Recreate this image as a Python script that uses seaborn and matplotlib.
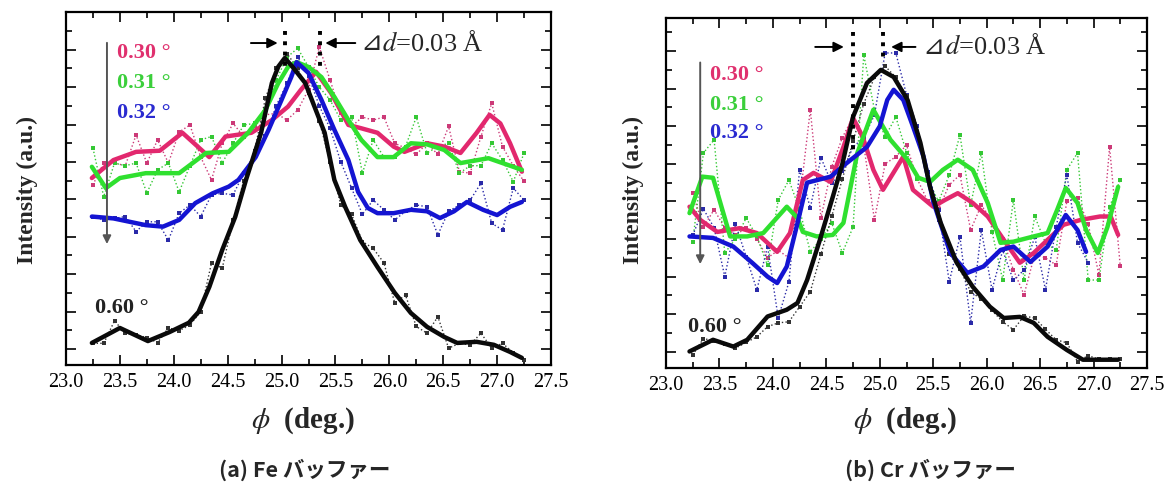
import numpy as np
import matplotlib
matplotlib.use("Agg")
import matplotlib.pyplot as plt
from matplotlib.ticker import MultipleLocator, FormatStrFormatter
import seaborn as sns

# raw scan positions (deg.)
phi_raw = [23.25, 23.35, 23.45, 23.55, 23.65, 23.75, 23.85, 23.95, 24.05, 24.15,
           24.25, 24.35, 24.45, 24.55, 24.65, 24.75, 24.85, 24.95, 25.05, 25.15,
           25.25, 25.35, 25.45, 25.55, 25.65, 25.75, 25.85, 25.95, 26.05, 26.15,
           26.25, 26.35, 26.45, 26.55, 26.65, 26.75, 26.85, 26.95, 27.05, 27.15,
           27.25]

# ---- (a) Fe buffer ----
fe_060_raw = [0.15, 0.15, 0.75, 0.42, 0.38, 0.30, 0.17, 0.56, 0.49, 0.64,
              1.00, 2.30, 2.16, 3.45, 4.50, 5.30, 6.70, 7.50, 7.90, 7.50,
              6.85, 6.10, 5.00, 3.85, 3.60, 2.87, 2.69, 2.30, 1.23, 1.44,
              0.60, 0.42, 0.86, 0.02, 0.15, 0.11, 0.42, 0.02, 0.15, -0.10, -0.29]
fe_060_phi = [23.24, 23.50, 23.76, 23.96, 24.14, 24.23, 24.33, 24.45, 24.57, 24.67,
              24.81, 24.91, 24.97, 25.03, 25.10, 25.22, 25.40, 25.49, 25.59, 25.73,
              25.89, 26.05, 26.20, 26.35, 26.51, 26.63, 26.81, 26.97, 27.12, 27.23]
fe_060_fit = [0.16, 0.56, 0.21, 0.45, 0.70, 0.99, 1.66, 2.65, 3.53, 4.52,
              5.78, 7.11, 7.55, 7.78, 7.55, 7.11, 5.78, 4.52, 3.80, 2.91,
              2.19, 1.50, 0.96, 0.59, 0.32, 0.16, 0.19, 0.11, -0.08, -0.24]

fe_032_raw = [3.54, 3.45, 3.49, 3.54, 3.14, 3.40, 3.40, 2.91, 3.63, 3.85,
              3.54, 4.12, 4.16, 4.12, 4.70, 5.20, 5.70, 6.50, 7.10, 7.80,
              7.30, 6.50, 5.90, 5.00, 4.30, 3.60, 3.98, 3.72, 3.45, 3.68,
              3.85, 3.80, 3.05, 3.68, 3.85, 3.98, 4.43, 3.36, 3.18, 4.30, 3.98]
fe_032_phi = [23.24, 23.44, 23.74, 23.90, 24.05, 24.20, 24.36, 24.51, 24.60, 24.76,
              24.88, 25.00, 25.09, 25.14, 25.25, 25.37, 25.49, 25.62, 25.71, 25.80,
              25.89, 26.04, 26.20, 26.35, 26.47, 26.60, 26.72, 26.87, 27.00, 27.12, 27.23]
fe_032_fit = [3.54, 3.49, 3.31, 3.27, 3.45, 3.90, 4.16, 4.34, 4.52, 5.13,
              5.86, 6.66, 7.27, 7.67, 7.38, 6.66, 5.86, 5.05, 4.20, 3.77,
              3.63, 3.63, 3.72, 3.68, 3.50, 3.68, 3.93, 3.72, 3.58, 3.80, 3.93]

fe_031_raw = [5.37, 4.07, 4.97, 4.90, 4.97, 4.17, 4.79, 4.97, 4.20, 4.90,
              5.59, 5.68, 4.97, 5.50, 5.99, 6.03, 6.39, 7.19, 7.80, 8.04,
              7.54, 7.00, 6.66, 6.12, 6.20, 4.70, 5.59, 5.13, 5.13, 5.41,
              6.20, 5.24, 5.41, 5.50, 4.70, 4.90, 4.90, 5.50, 5.05, 4.47, 5.24]
fe_031_phi = [23.24, 23.37, 23.50, 23.74, 24.05, 24.30, 24.51, 24.69, 24.85, 24.97,
              25.06, 25.14, 25.25, 25.37, 25.49, 25.62, 25.74, 25.89, 26.04, 26.20,
              26.35, 26.51, 26.66, 26.92, 27.23]
fe_031_fit = [4.87, 4.30, 4.57, 4.70, 4.70, 5.24, 5.27, 5.78, 6.39, 7.11,
              7.54, 7.67, 7.54, 7.27, 6.74, 6.12, 5.59, 5.13, 5.13, 5.50,
              5.47, 5.32, 4.97, 5.10, 4.79]

fe_030_raw = [4.39, 4.97, 4.97, 4.90, 5.72, 4.97, 5.59, 4.97, 5.80, 5.99,
              5.13, 4.52, 5.50, 6.03, 5.68, 5.95, 6.26, 6.30, 6.12, 6.39,
              6.93, 8.08, 7.19, 6.30, 5.95, 6.20, 6.12, 6.20, 5.50, 5.37,
              5.20, 5.50, 5.20, 5.95, 4.74, 4.70, 5.68, 6.57, 5.41, 4.90, 4.48]
fe_030_phi = [23.24, 23.44, 23.65, 23.87, 24.08, 24.33, 24.48, 24.72, 24.91, 25.06,
              25.18, 25.32, 25.46, 25.62, 25.74, 25.89, 26.04, 26.14, 26.35, 26.51,
              26.66, 26.81, 26.93, 27.03, 27.12, 27.23]
fe_030_fit = [4.57, 5.05, 5.27, 5.30, 5.78, 5.13, 5.68, 5.78, 6.12, 6.48,
              6.93, 7.41, 6.84, 5.99, 5.90, 5.78, 5.41, 5.27, 5.50, 5.41,
              5.24, 5.78, 6.26, 6.03, 5.50, 4.74]

# ---- (b) Cr buffer ----
cr_060_raw = [-0.08, 0.35, 0.30, 0.20, 0.10, 0.25, 0.40, 0.67, 0.77, 0.80,
              1.20, 1.60, 2.60, 3.60, 4.60, 5.60, 6.60, 7.30, 7.60, 7.30,
              6.80, 5.80, 4.60, 3.50, 2.60, 2.20, 1.60, 1.40, 1.10, 0.80,
              0.59, 0.95, 0.90, 0.60, 0.32, 0.24, -0.26, -0.10, -0.20, -0.20, -0.20]
cr_060_phi = [23.22, 23.44, 23.63, 23.76, 23.95, 24.13, 24.23, 24.32, 24.44, 24.56,
              24.65, 24.75, 24.88, 25.01, 25.13, 25.26, 25.38, 25.47, 25.57, 25.72,
              25.87, 26.03, 26.16, 26.31, 26.44, 26.57, 26.75, 26.90, 27.23]
cr_060_fit = [0.01, 0.32, 0.14, 0.32, 0.94, 1.12, 1.30, 1.91, 2.98, 4.12,
              5.00, 6.25, 7.15, 7.50, 7.31, 6.70, 5.56, 4.39, 3.43, 2.37,
              1.73, 1.20, 0.90, 0.93, 0.77, 0.40, 0.05, -0.21, -0.21]

cr_032_raw = [3.10, 3.80, 3.30, 2.00, 3.40, 2.53, 1.65, 2.80, 0.90, 1.86,
              4.84, 3.83, 5.16, 4.49, 4.80, 5.45, 5.70, 6.30, 7.95, 7.95,
              6.84, 6.00, 4.79, 3.78, 1.86, 3.06, 0.77, 3.24, 1.65, 2.70,
              1.90, 2.18, 3.06, 1.65, 3.32, 4.71, 2.90, 2.37]
cr_032_phi = [23.22, 23.44, 23.63, 23.81, 23.95, 24.04, 24.13, 24.23, 24.32, 24.54,
              24.69, 24.88, 25.00, 25.07, 25.13, 25.22, 25.31, 25.41, 25.50, 25.66,
              25.82, 25.97, 26.13, 26.25, 26.41, 26.57, 26.74, 26.85, 26.93]
cr_032_fit = [3.07, 3.03, 2.80, 2.36, 2.00, 1.83, 2.27, 3.42, 4.50, 4.66,
              5.02, 5.45, 6.00, 6.70, 6.97, 6.70, 6.00, 5.19, 4.00, 2.63,
              2.10, 2.27, 2.71, 2.80, 2.39, 2.80, 3.64, 3.24, 2.66]

cr_031_raw = [2.93, 5.29, 5.64, 2.63, 3.00, 3.56, 3.07, 2.30, 4.04, 4.57,
              3.78, 2.66, 3.00, 3.43, 2.63, 3.32, 7.90, 6.44, 5.72, 6.25,
              5.30, 4.60, 4.57, 4.00, 4.70, 5.77, 3.90, 5.29, 3.20, 1.91,
              4.04, 1.91, 3.60, 2.90, 2.70, 4.84, 5.29, 1.91, 1.91, 3.86, 4.57]
cr_031_phi = [23.22, 23.34, 23.44, 23.60, 23.76, 23.91, 24.13, 24.23, 24.28, 24.41,
              24.56, 24.66, 24.79, 24.94, 25.10, 25.26, 25.36, 25.47, 25.59, 25.73,
              25.87, 26.01, 26.13, 26.25, 26.44, 26.57, 26.66, 26.74, 26.85, 26.93,
              27.04, 27.13, 27.23]
cr_031_fit = [3.69, 4.66, 4.63, 3.07, 3.07, 3.16, 3.86, 3.56, 3.19, 3.07,
              3.11, 3.43, 5.29, 6.44, 5.64, 5.11, 4.63, 4.52, 4.84, 5.11,
              4.84, 3.96, 2.90, 2.93, 3.07, 3.16, 3.78, 4.36, 3.96, 3.24,
              2.63, 3.32, 4.39]

cr_030_raw = [4.22, 3.32, 3.78, 3.30, 3.10, 3.30, 3.00, 2.50, 2.70, 2.50,
              4.00, 6.44, 3.56, 4.92, 5.70, 6.25, 5.50, 3.51, 5.00, 5.19,
              5.50, 4.60, 4.00, 3.80, 4.44, 4.71, 3.24, 3.90, 3.50, 3.00,
              2.18, 1.52, 2.60, 2.50, 2.31, 4.00, 4.10, 3.40, 2.05, 5.45, 2.27]
cr_030_phi = [23.22, 23.32, 23.48, 23.69, 23.85, 24.04, 24.16, 24.28, 24.38, 24.54,
              24.66, 24.75, 24.84, 24.94, 25.03, 25.22, 25.31, 25.50, 25.61, 25.73,
              25.87, 26.01, 26.16, 26.31, 26.44, 26.57, 26.72, 26.88, 27.06, 27.16, 27.23]
cr_030_fit = [3.86, 3.51, 3.19, 3.29, 3.16, 2.66, 3.16, 4.57, 4.76, 4.52,
              5.45, 6.22, 5.72, 4.84, 4.31, 5.19, 4.31, 3.86, 4.04, 4.22,
              3.96, 3.60, 2.98, 2.37, 2.63, 2.98, 3.38, 3.51, 3.60, 3.60, 3.11]

angle_labels = ["0.30 °", "0.31 °", "0.32 °"]
low_label = "0.60 °"
titles = ["(a) Fe バッファー", "(b) Cr バッファー"]

PINK, GREEN, BLUE, BLACK = "#e2286e", "#2fe02f", "#1414d2", "#0a0a0a"
PINK_R, GREEN_R, BLUE_R, BLACK_R = "#cc3a78", "#35c835", "#2a2aa8", "#333333"

sns.set_style("ticks")
plt.rcParams["font.family"] = ["Liberation Serif", "DejaVu Sans"]
plt.rcParams["mathtext.fontset"] = "stix"

fig = plt.figure(figsize=(11.68, 4.96), dpi=100)
ax_fe = fig.add_axes([66 / 1168, 131 / 496, 485 / 1168, 353 / 496])
ax_cr = fig.add_axes([666 / 1168, 128 / 496, 481 / 1168, 350 / 496])


def draw_panel(ax, series, ylim):
    # series: list of (raw, fit_phi, fit, line colour, raw colour)
    for raw, fphi, fit, c, rc in series:
        sns.lineplot(x=phi_raw[:len(raw)], y=raw, ax=ax, color=rc, lw=1.0,
                     linestyle=":", marker="s", markersize=3.2,
                     markeredgewidth=0, estimator=None, sort=False)
    for raw, fphi, fit, c, rc in series:
        sns.lineplot(x=fphi, y=fit, ax=ax, color=c, lw=3.2,
                     estimator=None, sort=False)
    ax.set_xlim(23.0, 27.5)
    ax.set_ylim(*ylim)
    ax.xaxis.set_major_locator(MultipleLocator(0.5))
    ax.xaxis.set_minor_locator(MultipleLocator(0.25))
    ax.xaxis.set_major_formatter(FormatStrFormatter("%.1f"))
    ax.yaxis.set_major_locator(MultipleLocator(1.0))
    ax.yaxis.set_minor_locator(MultipleLocator(0.5))
    ax.tick_params(which="both", direction="in", top=True, right=True,
                   width=1.2, colors="black", labelsize=14.5, pad=6)
    ax.tick_params(which="major", length=7)
    ax.tick_params(which="minor", length=4)
    ax.tick_params(axis="y", labelleft=False)
    for s in ax.spines.values():
        s.set_linewidth(1.6)
        s.set_color("black")
    ax.set_xlabel("")
    ax.set_ylabel("")


draw_panel(ax_fe, [(fe_030_raw, fe_030_phi, fe_030_fit, PINK, PINK_R),
                   (fe_031_raw, fe_031_phi, fe_031_fit, GREEN, GREEN_R),
                   (fe_032_raw, fe_032_phi, fe_032_fit, BLUE, BLUE_R),
                   (fe_060_raw, fe_060_phi, fe_060_fit, BLACK, BLACK_R)],
           (-0.43, 9.01))
draw_panel(ax_cr, [(cr_030_raw, cr_030_phi, cr_030_fit, PINK, PINK_R),
                   (cr_031_raw, cr_031_phi, cr_031_fit, GREEN, GREEN_R),
                   (cr_032_raw, cr_032_phi, cr_032_fit, BLUE, BLUE_R),
                   (cr_060_raw, cr_060_phi, cr_060_fit, BLACK, BLACK_R)],
           (-0.43, 8.88))

label_colors = ["#e0306e", "#3bcf3b", "#2a2ad0"]


def decorate(ax, lab_x, lab_y, low_xy, arrow_x, arrow_y, d1, d2, d_top, d_bot,
             arr_y, arr_l, arr_r, txt_x):
    for t, c, y in zip(angle_labels, label_colors, lab_y):
        ax.text(lab_x, y, t, color=c, fontsize=16, fontweight="bold",
                ha="left", va="center")
    ax.text(low_xy[0], low_xy[1], low_label, color="#222222", fontsize=16,
            fontweight="bold", ha="left", va="center")
    ax.annotate("", xy=(arrow_x, arrow_y[1]), xytext=(arrow_x, arrow_y[0]),
                arrowprops=dict(arrowstyle="-|>", color="#555555", lw=1.4,
                                mutation_scale=12))
    ax.plot([d1, d1], [d_top, d_bot[0]], ls=":", color="black", lw=2.8)
    ax.plot([d2, d2], [d_top, d_bot[1]], ls=":", color="black", lw=2.8)
    ax.annotate("", xy=(arr_l[1], arr_y), xytext=(arr_l[0], arr_y),
                arrowprops=dict(arrowstyle="-|>", color="black", lw=1.4,
                                mutation_scale=15))
    ax.annotate("", xy=(arr_r[1], arr_y), xytext=(arr_r[0], arr_y),
                arrowprops=dict(arrowstyle="-|>", color="black", lw=1.4,
                                mutation_scale=15))
    tri = ax.text(txt_x, arr_y, "⊿", fontsize=19, ha="left", va="center",
                  family="DejaVu Sans")
    ax.annotate("$d$=0.03 Å", xy=(1.0, 0.5), xycoords=tri, fontsize=19,
                ha="left", va="center")


decorate(ax_fe, 23.47, [7.91, 7.11, 6.31], (23.27, 1.10), 23.38, (8.26, 2.73),
         25.03, 25.36, 8.50, (7.41, 7.46), 8.18, (24.69, 24.99), (25.71, 25.38), 25.73)
decorate(ax_cr, 23.41, [7.37, 6.57, 5.82], (23.21, 0.66), 23.32, (7.77, 2.26),
         24.745, 25.03, 8.50, (5.37, 7.69), 8.11, (24.37, 24.69), (25.36, 25.08), 25.40)

for xc in [27, 633]:
    fig.text(xc / 1168, 1 - 190 / 496, "Intensity (a.u.)", rotation=90,
             fontsize=17, fontweight="bold", ha="center", va="center")
for xl in [303, 905]:
    fig.text(xl / 1168, 1 - 421 / 496, r"$\phi$  (deg.)", fontsize=21,
             fontweight="bold", ha="center", va="center")
for xt, t in zip([305, 930], titles):
    fig.text(xt / 1168, 1 - 470 / 496, t, fontsize=15.5, fontweight="bold",
             ha="center", va="center", family=["Noto Sans CJK JP", "DejaVu Sans"])

fig.savefig("out.png", dpi=100)
